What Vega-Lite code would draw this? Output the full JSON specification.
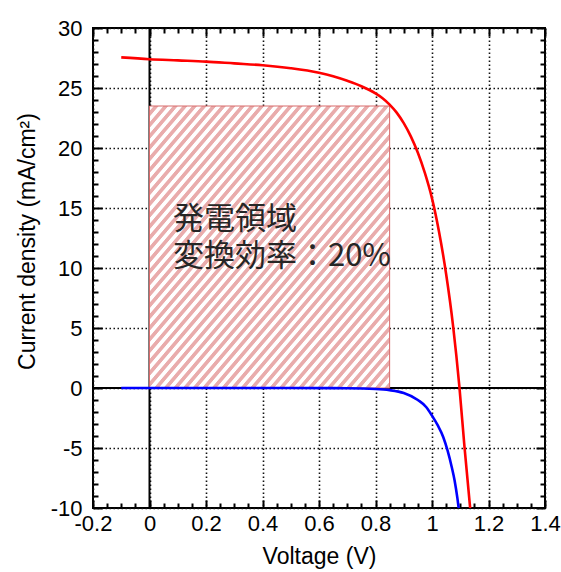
{
  "$schema": "https://vega.github.io/schema/vega-lite/v6.json",
  "width": 452,
  "height": 480,
  "autosize": {"type": "none"},
  "padding": {"left": 93, "top": 28, "right": 16, "bottom": 64},
  "background": "white",
  "config": {"view": {"stroke": "#000", "strokeWidth": 2}},
  "datasets": {
    "curves": [
      {"V": -0.1, "J": 27.55, "series": "light"},
      {"V": 0, "J": 27.4, "series": "light"},
      {"V": 0.1, "J": 27.3, "series": "light"},
      {"V": 0.2, "J": 27.2, "series": "light"},
      {"V": 0.3, "J": 27.05, "series": "light"},
      {"V": 0.4, "J": 26.9, "series": "light"},
      {"V": 0.5, "J": 26.65, "series": "light"},
      {"V": 0.6, "J": 26.27, "series": "light"},
      {"V": 0.65, "J": 25.98, "series": "light"},
      {"V": 0.7, "J": 25.6, "series": "light"},
      {"V": 0.75, "J": 25.15, "series": "light"},
      {"V": 0.8, "J": 24.55, "series": "light"},
      {"V": 0.825, "J": 24.15, "series": "light"},
      {"V": 0.85, "J": 23.62, "series": "light"},
      {"V": 0.875, "J": 22.95, "series": "light"},
      {"V": 0.9, "J": 22.07, "series": "light"},
      {"V": 0.925, "J": 20.97, "series": "light"},
      {"V": 0.95, "J": 19.6, "series": "light"},
      {"V": 0.975, "J": 17.9, "series": "light"},
      {"V": 1.0, "J": 15.8, "series": "light"},
      {"V": 1.025, "J": 13.0, "series": "light"},
      {"V": 1.05, "J": 9.5, "series": "light"},
      {"V": 1.075, "J": 5.1, "series": "light"},
      {"V": 1.097, "J": 0.1, "series": "light"},
      {"V": 1.115, "J": -4.9, "series": "light"},
      {"V": 1.137, "J": -10.5, "series": "light"},
      {"V": -0.1, "J": 0, "series": "dark"},
      {"V": 0.5, "J": 0, "series": "dark"},
      {"V": 0.7, "J": -0.02, "series": "dark"},
      {"V": 0.8, "J": -0.08, "series": "dark"},
      {"V": 0.85, "J": -0.18, "series": "dark"},
      {"V": 0.9, "J": -0.42, "series": "dark"},
      {"V": 0.95, "J": -1.0, "series": "dark"},
      {"V": 0.98, "J": -1.6, "series": "dark"},
      {"V": 1.0, "J": -2.3, "series": "dark"},
      {"V": 1.02, "J": -3.1, "series": "dark"},
      {"V": 1.04, "J": -4.1, "series": "dark"},
      {"V": 1.055, "J": -5.2, "series": "dark"},
      {"V": 1.07, "J": -6.6, "series": "dark"},
      {"V": 1.08, "J": -7.7, "series": "dark"},
      {"V": 1.09, "J": -9.2, "series": "dark"},
      {"V": 1.096, "J": -10.3, "series": "dark"}
    ],
    "region": [{"V": 0, "V2": 0.85, "J": 0, "J2": 23.5}],
    "labels": [
      {"V": 0.083, "J": 14.0, "label": "発電領域"},
      {"V": 0.083, "J": 10.9, "label": "変換効率：20%"}
    ]
  },
  "layer": [
    {
      "layer": [
        {
          "data": {"values": [{"V": 0}]},
          "mark": {"type": "rule", "color": "#000", "strokeWidth": 2},
          "encoding": {
            "x": {
              "field": "V", "type": "quantitative", "title": "Voltage (V)",
              "scale": {"domain": [-0.2, 1.4], "nice": false, "zero": false},
              "axis": {
                "orient": "bottom",
                "tickCount": 100,
                "values": [-0.2,-0.15,-0.1,-0.05,0,0.05,0.1,0.15,0.2,0.25,0.3,0.35,0.4,0.45,0.5,0.55,0.6,0.65,0.7,0.75,0.8,0.85,0.9,0.95,1,1.05,1.1,1.15,1.2,1.25,1.3,1.35,1.4],
                "labelExpr": "abs(datum.value*5 - round(datum.value*5)) < 0.001 ? '' + datum.value : ''",
                "labelFont": "Liberation Sans", "labelFontSize": 22, "labelColor": "#000",
                "labelPadding": 13, "labelOverlap": false, "labelFlush": false, "labelBound": false,
                "tickSize": {"condition": {"test": "abs(datum.value*5 - round(datum.value*5)) < 0.001", "value": -8}, "value": -5},
                "tickWidth": 2, "tickColor": "#000",
                "grid": true,
                "gridOpacity": {"condition": {"test": "abs(datum.value*5 - round(datum.value*5)) < 0.001", "value": 1}, "value": 0},
                "gridDash": [1.5, 2.5], "gridColor": "#111", "gridWidth": 1.6,
                "domain": false,
                "titleFont": "Liberation Sans", "titleFontSize": 23, "titleFontWeight": "normal", "titleColor": "#000", "titlePadding": 8
              }
            }
          }
        },
        {
          "data": {"values": [{"J": 0}]},
          "mark": {"type": "rule", "color": "#000", "strokeWidth": 2},
          "encoding": {
            "y": {
              "field": "J", "type": "quantitative", "title": "Current density (mA/cm²)",
              "scale": {"domain": [-10, 30], "nice": false, "zero": false},
              "axis": {
                "orient": "left",
                "tickCount": 100,
                "values": [-10,-9,-8,-7,-6,-5,-4,-3,-2,-1,0,1,2,3,4,5,6,7,8,9,10,11,12,13,14,15,16,17,18,19,20,21,22,23,24,25,26,27,28,29,30],
                "labelExpr": "datum.value % 5 == 0 ? '' + datum.value : ''",
                "labelFont": "Liberation Sans", "labelFontSize": 22, "labelColor": "#000",
                "labelPadding": 20, "labelOverlap": false, "labelFlush": false, "labelBound": false,
                "tickSize": {"condition": {"test": "datum.value % 5 == 0", "value": -9}, "value": -5},
                "tickWidth": 2, "tickColor": "#000",
                "grid": true,
                "gridOpacity": {"condition": {"test": "datum.value % 5 == 0", "value": 1}, "value": 0},
                "gridDash": [1.5, 2.5], "gridColor": "#111", "gridWidth": 1.6,
                "domain": false,
                "titleFont": "Liberation Sans", "titleFontSize": 23, "titleFontWeight": "normal", "titleColor": "#000", "titlePadding": 11,
                "titleY": 213
              }
            }
          }
        },
        {
          "data": {"name": "region"},
          "mark": {
            "type": "rect",
            "stroke": "#d86a6a",
            "strokeWidth": 1,
            "fill": {
              "gradient": "linear", "x1": 0, "y1": 0, "x2": 1, "y2": 1,
              "stops": [
                {"offset": 0, "color": "#fff"}, {"offset": 0.008, "color": "#fff"}, {"offset": 0.01, "color": "#e9acac"}, {"offset": 0.018, "color": "#e9acac"},
                {"offset": 0.02, "color": "#fff"}, {"offset": 0.028, "color": "#fff"}, {"offset": 0.03, "color": "#e9acac"}, {"offset": 0.038, "color": "#e9acac"},
                {"offset": 0.04, "color": "#fff"}, {"offset": 0.048, "color": "#fff"}, {"offset": 0.05, "color": "#e9acac"}, {"offset": 0.058, "color": "#e9acac"},
                {"offset": 0.06, "color": "#fff"}, {"offset": 0.068, "color": "#fff"}, {"offset": 0.07, "color": "#e9acac"}, {"offset": 0.078, "color": "#e9acac"},
                {"offset": 0.08, "color": "#fff"}, {"offset": 0.088, "color": "#fff"}, {"offset": 0.09, "color": "#e9acac"}, {"offset": 0.098, "color": "#e9acac"},
                {"offset": 0.1, "color": "#fff"}, {"offset": 0.108, "color": "#fff"}, {"offset": 0.11, "color": "#e9acac"}, {"offset": 0.118, "color": "#e9acac"},
                {"offset": 0.12, "color": "#fff"}, {"offset": 0.128, "color": "#fff"}, {"offset": 0.13, "color": "#e9acac"}, {"offset": 0.138, "color": "#e9acac"},
                {"offset": 0.14, "color": "#fff"}, {"offset": 0.148, "color": "#fff"}, {"offset": 0.15, "color": "#e9acac"}, {"offset": 0.158, "color": "#e9acac"},
                {"offset": 0.16, "color": "#fff"}, {"offset": 0.168, "color": "#fff"}, {"offset": 0.17, "color": "#e9acac"}, {"offset": 0.178, "color": "#e9acac"},
                {"offset": 0.18, "color": "#fff"}, {"offset": 0.188, "color": "#fff"}, {"offset": 0.19, "color": "#e9acac"}, {"offset": 0.198, "color": "#e9acac"},
                {"offset": 0.2, "color": "#fff"}, {"offset": 0.208, "color": "#fff"}, {"offset": 0.21, "color": "#e9acac"}, {"offset": 0.218, "color": "#e9acac"},
                {"offset": 0.22, "color": "#fff"}, {"offset": 0.228, "color": "#fff"}, {"offset": 0.23, "color": "#e9acac"}, {"offset": 0.238, "color": "#e9acac"},
                {"offset": 0.24, "color": "#fff"}, {"offset": 0.248, "color": "#fff"}, {"offset": 0.25, "color": "#e9acac"}, {"offset": 0.258, "color": "#e9acac"},
                {"offset": 0.26, "color": "#fff"}, {"offset": 0.268, "color": "#fff"}, {"offset": 0.27, "color": "#e9acac"}, {"offset": 0.278, "color": "#e9acac"},
                {"offset": 0.28, "color": "#fff"}, {"offset": 0.288, "color": "#fff"}, {"offset": 0.29, "color": "#e9acac"}, {"offset": 0.298, "color": "#e9acac"},
                {"offset": 0.3, "color": "#fff"}, {"offset": 0.308, "color": "#fff"}, {"offset": 0.31, "color": "#e9acac"}, {"offset": 0.318, "color": "#e9acac"},
                {"offset": 0.32, "color": "#fff"}, {"offset": 0.328, "color": "#fff"}, {"offset": 0.33, "color": "#e9acac"}, {"offset": 0.338, "color": "#e9acac"},
                {"offset": 0.34, "color": "#fff"}, {"offset": 0.348, "color": "#fff"}, {"offset": 0.35, "color": "#e9acac"}, {"offset": 0.358, "color": "#e9acac"},
                {"offset": 0.36, "color": "#fff"}, {"offset": 0.368, "color": "#fff"}, {"offset": 0.37, "color": "#e9acac"}, {"offset": 0.378, "color": "#e9acac"},
                {"offset": 0.38, "color": "#fff"}, {"offset": 0.388, "color": "#fff"}, {"offset": 0.39, "color": "#e9acac"}, {"offset": 0.398, "color": "#e9acac"},
                {"offset": 0.4, "color": "#fff"}, {"offset": 0.408, "color": "#fff"}, {"offset": 0.41, "color": "#e9acac"}, {"offset": 0.418, "color": "#e9acac"},
                {"offset": 0.42, "color": "#fff"}, {"offset": 0.428, "color": "#fff"}, {"offset": 0.43, "color": "#e9acac"}, {"offset": 0.438, "color": "#e9acac"},
                {"offset": 0.44, "color": "#fff"}, {"offset": 0.448, "color": "#fff"}, {"offset": 0.45, "color": "#e9acac"}, {"offset": 0.458, "color": "#e9acac"},
                {"offset": 0.46, "color": "#fff"}, {"offset": 0.468, "color": "#fff"}, {"offset": 0.47, "color": "#e9acac"}, {"offset": 0.478, "color": "#e9acac"},
                {"offset": 0.48, "color": "#fff"}, {"offset": 0.488, "color": "#fff"}, {"offset": 0.49, "color": "#e9acac"}, {"offset": 0.498, "color": "#e9acac"},
                {"offset": 0.5, "color": "#fff"}, {"offset": 0.508, "color": "#fff"}, {"offset": 0.51, "color": "#e9acac"}, {"offset": 0.518, "color": "#e9acac"},
                {"offset": 0.52, "color": "#fff"}, {"offset": 0.528, "color": "#fff"}, {"offset": 0.53, "color": "#e9acac"}, {"offset": 0.538, "color": "#e9acac"},
                {"offset": 0.54, "color": "#fff"}, {"offset": 0.548, "color": "#fff"}, {"offset": 0.55, "color": "#e9acac"}, {"offset": 0.558, "color": "#e9acac"},
                {"offset": 0.56, "color": "#fff"}, {"offset": 0.568, "color": "#fff"}, {"offset": 0.57, "color": "#e9acac"}, {"offset": 0.578, "color": "#e9acac"},
                {"offset": 0.58, "color": "#fff"}, {"offset": 0.588, "color": "#fff"}, {"offset": 0.59, "color": "#e9acac"}, {"offset": 0.598, "color": "#e9acac"},
                {"offset": 0.6, "color": "#fff"}, {"offset": 0.608, "color": "#fff"}, {"offset": 0.61, "color": "#e9acac"}, {"offset": 0.618, "color": "#e9acac"},
                {"offset": 0.62, "color": "#fff"}, {"offset": 0.628, "color": "#fff"}, {"offset": 0.63, "color": "#e9acac"}, {"offset": 0.638, "color": "#e9acac"},
                {"offset": 0.64, "color": "#fff"}, {"offset": 0.648, "color": "#fff"}, {"offset": 0.65, "color": "#e9acac"}, {"offset": 0.658, "color": "#e9acac"},
                {"offset": 0.66, "color": "#fff"}, {"offset": 0.668, "color": "#fff"}, {"offset": 0.67, "color": "#e9acac"}, {"offset": 0.678, "color": "#e9acac"},
                {"offset": 0.68, "color": "#fff"}, {"offset": 0.688, "color": "#fff"}, {"offset": 0.69, "color": "#e9acac"}, {"offset": 0.698, "color": "#e9acac"},
                {"offset": 0.7, "color": "#fff"}, {"offset": 0.708, "color": "#fff"}, {"offset": 0.71, "color": "#e9acac"}, {"offset": 0.718, "color": "#e9acac"},
                {"offset": 0.72, "color": "#fff"}, {"offset": 0.728, "color": "#fff"}, {"offset": 0.73, "color": "#e9acac"}, {"offset": 0.738, "color": "#e9acac"},
                {"offset": 0.74, "color": "#fff"}, {"offset": 0.748, "color": "#fff"}, {"offset": 0.75, "color": "#e9acac"}, {"offset": 0.758, "color": "#e9acac"},
                {"offset": 0.76, "color": "#fff"}, {"offset": 0.768, "color": "#fff"}, {"offset": 0.77, "color": "#e9acac"}, {"offset": 0.778, "color": "#e9acac"},
                {"offset": 0.78, "color": "#fff"}, {"offset": 0.788, "color": "#fff"}, {"offset": 0.79, "color": "#e9acac"}, {"offset": 0.798, "color": "#e9acac"},
                {"offset": 0.8, "color": "#fff"}, {"offset": 0.808, "color": "#fff"}, {"offset": 0.81, "color": "#e9acac"}, {"offset": 0.818, "color": "#e9acac"},
                {"offset": 0.82, "color": "#fff"}, {"offset": 0.828, "color": "#fff"}, {"offset": 0.83, "color": "#e9acac"}, {"offset": 0.838, "color": "#e9acac"},
                {"offset": 0.84, "color": "#fff"}, {"offset": 0.848, "color": "#fff"}, {"offset": 0.85, "color": "#e9acac"}, {"offset": 0.858, "color": "#e9acac"},
                {"offset": 0.86, "color": "#fff"}, {"offset": 0.868, "color": "#fff"}, {"offset": 0.87, "color": "#e9acac"}, {"offset": 0.878, "color": "#e9acac"},
                {"offset": 0.88, "color": "#fff"}, {"offset": 0.888, "color": "#fff"}, {"offset": 0.89, "color": "#e9acac"}, {"offset": 0.898, "color": "#e9acac"},
                {"offset": 0.9, "color": "#fff"}, {"offset": 0.908, "color": "#fff"}, {"offset": 0.91, "color": "#e9acac"}, {"offset": 0.918, "color": "#e9acac"},
                {"offset": 0.92, "color": "#fff"}, {"offset": 0.928, "color": "#fff"}, {"offset": 0.93, "color": "#e9acac"}, {"offset": 0.938, "color": "#e9acac"},
                {"offset": 0.94, "color": "#fff"}, {"offset": 0.948, "color": "#fff"}, {"offset": 0.95, "color": "#e9acac"}, {"offset": 0.958, "color": "#e9acac"},
                {"offset": 0.96, "color": "#fff"}, {"offset": 0.968, "color": "#fff"}, {"offset": 0.97, "color": "#e9acac"}, {"offset": 0.978, "color": "#e9acac"},
                {"offset": 0.98, "color": "#fff"}, {"offset": 0.988, "color": "#fff"}, {"offset": 0.99, "color": "#e9acac"}, {"offset": 0.998, "color": "#e9acac"},
                {"offset": 1, "color": "#fff"}
              ]
            }
          },
          "encoding": {
            "x": {"field": "V", "type": "quantitative", "title": "Voltage (V)"},
            "x2": {"field": "V2"},
            "y": {"field": "J", "type": "quantitative", "title": "Current density (mA/cm²)"},
            "y2": {"field": "J2"}
          }
        },
        {
          "data": {"name": "curves"},
          "mark": {"type": "line", "strokeWidth": 2.6, "interpolate": "monotone", "clip": true},
          "encoding": {
            "x": {"field": "V", "type": "quantitative", "title": "Voltage (V)"},
            "y": {"field": "J", "type": "quantitative", "title": "Current density (mA/cm²)"},
            "color": {"field": "series", "type": "nominal", "scale": {"domain": ["light", "dark"], "range": ["#ff0000", "#0000ff"]}, "legend": null},
            "order": {"field": "V", "type": "quantitative"}
          }
        },
        {
          "data": {"name": "labels"},
          "mark": {"type": "text", "font": "Noto Sans CJK JP", "fontSize": 31, "color": "#262626", "align": "left", "baseline": "middle"},
          "encoding": {
            "x": {"field": "V", "type": "quantitative", "title": "Voltage (V)"},
            "y": {"field": "J", "type": "quantitative", "title": "Current density (mA/cm²)"},
            "text": {"field": "label", "type": "nominal"}
          }
        }
      ]
    },
    {
      "data": {"name": "region"},
      "mark": {"type": "point", "opacity": 0},
      "encoding": {
        "x": {
          "field": "V", "type": "quantitative",
          "scale": {"domain": [-0.2, 1.4], "nice": false, "zero": false},
          "axis": {
            "orient": "top", "title": null, "labels": false, "grid": false, "domain": false,
            "tickCount": 100,
            "values": [-0.2,-0.15,-0.1,-0.05,0,0.05,0.1,0.15,0.2,0.25,0.3,0.35,0.4,0.45,0.5,0.55,0.6,0.65,0.7,0.75,0.8,0.85,0.9,0.95,1,1.05,1.1,1.15,1.2,1.25,1.3,1.35,1.4],
            "tickSize": {"condition": {"test": "abs(datum.value*5 - round(datum.value*5)) < 0.001", "value": -8}, "value": -5},
            "tickWidth": 2, "tickColor": "#000"
          }
        },
        "y": {
          "field": "J", "type": "quantitative",
          "scale": {"domain": [-10, 30], "nice": false, "zero": false},
          "axis": {
            "orient": "right", "title": null, "labels": false, "grid": false, "domain": false,
            "tickCount": 100,
            "values": [-10,-9,-8,-7,-6,-5,-4,-3,-2,-1,0,1,2,3,4,5,6,7,8,9,10,11,12,13,14,15,16,17,18,19,20,21,22,23,24,25,26,27,28,29,30],
            "tickSize": {"condition": {"test": "datum.value % 5 == 0", "value": -9}, "value": -5},
            "tickWidth": 2, "tickColor": "#000"
          }
        }
      }
    }
  ],
  "resolve": {"axis": {"x": "independent", "y": "independent"}}
}
